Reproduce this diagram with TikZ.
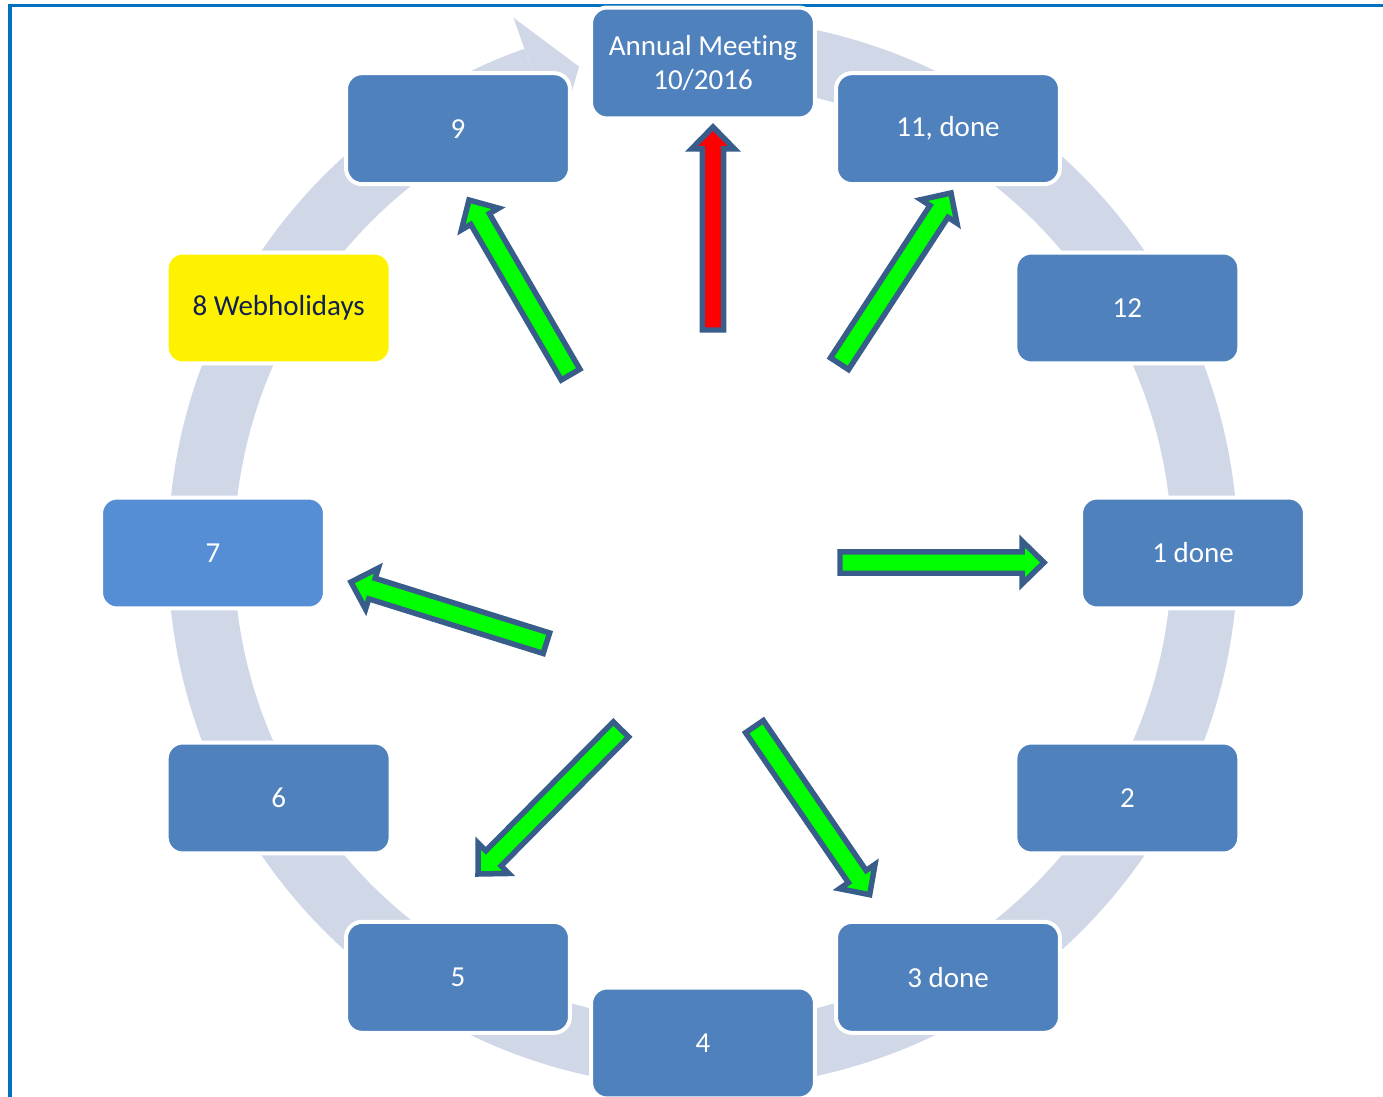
\documentclass[tikz,border=0pt]{standalone}
\usepackage{fontspec}
\usepackage{tikz}
\usetikzlibrary{calc}
\newfontfamily\boxfont[Ligatures=NoCommon]{Carlito}

\definecolor{boxblue}{RGB}{79,129,189}
\definecolor{lightbox}{RGB}{85,142,213}
\definecolor{ringgrey}{RGB}{208,216,232}
\definecolor{arrowedge}{RGB}{56,93,138}
\definecolor{frameblue}{RGB}{0,112,192}
\definecolor{navytext}{RGB}{16,32,80}

\tikzset{
  cyclebox/.style={rectangle, rounded corners=0.32cm, fill=boxblue, draw=white,
    line width=0.08cm, minimum width=4.48cm, minimum height=2.22cm, inner sep=0pt,
    text=white, align=center, font={\boxfont\fontsize{16.5}{19.5}\selectfont}},
  ringband/.style={draw=ringgrey, line width=1.32cm},
  blockedge/.style={draw=arrowedge, line width=0.11cm, line join=miter}
}

% block arrow: #1 fill, #2 tail, #3 tip
\newcommand{\blockarrow}[3]{%
  \coordinate (ba) at ($(#3)!0.44cm!(#2)$);
  \filldraw[blockedge, fill=#1]
    ($(#2)!0.215cm!90:(#3)$) -- ($(ba)!0.215cm!90:(#3)$) -- ($(ba)!0.43cm!90:(#3)$)
    -- (#3) -- ($(ba)!0.43cm!-90:(#3)$) -- ($(ba)!0.215cm!-90:(#3)$)
    -- ($(#2)!0.215cm!-90:(#3)$) -- cycle;
}

\begin{document}
\begin{tikzpicture}[x=0.02cm, y=0.02cm]

\useasboundingbox (-703,-543) rectangle (680,553);
\clip (-703,-543) rectangle (680,553);

%Frame
\draw[frameblue, line width=0.07cm] (-693.2,547.3) rectangle (720,-600);

%Ring with arrowhead
\draw[ringband] (85:502) arc[start angle=85, end angle=-250.5, radius=502];
\fill[ringgrey] (-250.5:568) -- (-255.7:502) -- (-250.5:436) -- cycle;

%Boxes
\node[cyclebox] (annual) at (90:490) {Annual Meeting\\10/2016};
\node[cyclebox] (m11) at (60:490) {11, done};
\node[cyclebox] (m12) at (30:490) {12};
\node[cyclebox] (m1) at (0:490) {1 done};
\node[cyclebox] (m2) at (-30:490) {2};
\node[cyclebox] (m3) at (-60:490) {3 done};
\node[cyclebox] (m4) at (-90:490) {4};
\node[cyclebox] (m5) at (-120:490) {5};
\node[cyclebox] (m6) at (-150:490) {6};
\node[cyclebox, fill=lightbox] (m7) at (180:490) {7};
\node[cyclebox, fill=yellow, text=navytext] (m8) at (150:490) {8 Webholidays};
\node[cyclebox] (m9) at (120:490) {9};

%Arrow ends
\coordinate (tannual) at (10,223);
\coordinate (hannual) at (10,426);
\coordinate (t9) at (-132.4,178.4);
\coordinate (h9) at (-234,353);
\coordinate (t11) at (136.5,189.3);
\coordinate (h11) at (248,360);
\coordinate (t1) at (137,-9.5);
\coordinate (h1) at (341,-9.5);
\coordinate (t7) at (-156.6,-90.2);
\coordinate (h7) at (-352,-29);
\coordinate (t5) at (-82,-176.4);
\coordinate (h5) at (-225,-321);
\coordinate (t3) at (51.5,-173.6);
\coordinate (h3) at (166.7,-341.7);

%Block arrows
\blockarrow{red}{tannual}{hannual}
\blockarrow{green}{t9}{h9}
\blockarrow{green}{t11}{h11}
\blockarrow{green}{t1}{h1}
\blockarrow{green}{t7}{h7}
\blockarrow{green}{t5}{h5}
\blockarrow{green}{t3}{h3}

\end{tikzpicture}
\end{document}
